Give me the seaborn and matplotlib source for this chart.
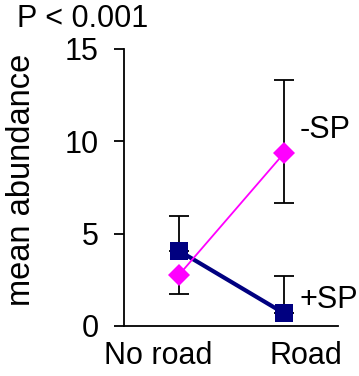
import matplotlib
matplotlib.use("Agg")
import matplotlib.pyplot as plt
import matplotlib.transforms as mtransforms
import pandas as pd
import seaborn as sns

# Site categories
sites = ["No road", "Road"]

# -SP series: mean abundance with lower / upper error
minus_sp_mean = [2.76, 9.35]
minus_sp_err_lo = [1.04, 2.70]
minus_sp_err_hi = [0.0, 3.95]

# +SP series: mean abundance with lower / upper error
plus_sp_mean = [4.07, 0.69]
plus_sp_err_lo = [0.0, 0.0]
plus_sp_err_hi = [1.90, 2.03]

y_ticks = [0, 5, 10, 15]

sns.set_style("ticks")
plt.rcParams["font.family"] = ["Liberation Sans", "DejaVu Sans"]
plt.rcParams.update({"text.color": "black", "axes.labelcolor": "black",
                     "xtick.color": "black", "ytick.color": "black"})

fig = plt.figure(figsize=(3.59, 3.76), dpi=100)
ax = fig.add_axes([0.345, 0.133, 0.5965, 0.737])

df_plus = pd.DataFrame({"site": sites, "mean": plus_sp_mean})
df_minus = pd.DataFrame({"site": sites, "mean": minus_sp_mean})

# error bars sit behind the markers
ax.errorbar([0, 1], plus_sp_mean, yerr=[plus_sp_err_lo, plus_sp_err_hi],
            fmt="none", ecolor="black", elinewidth=1.3, capsize=7,
            capthick=1.3, zorder=1)
ax.errorbar([0, 1], minus_sp_mean, yerr=[minus_sp_err_lo, minus_sp_err_hi],
            fmt="none", ecolor="black", elinewidth=1.3, capsize=7,
            capthick=1.3, zorder=1)

sns.lineplot(data=df_plus, x="site", y="mean", ax=ax, color="#000080",
             linewidth=3, marker="s", markersize=13, markeredgewidth=0,
             sort=False, zorder=3)
sns.lineplot(data=df_minus, x="site", y="mean", ax=ax, color="#FF00FF",
             linewidth=1.3, marker="D", markersize=11, markeredgewidth=0,
             sort=False, zorder=4)

ax.set_xlim(-0.524, 1.514)
ax.set_ylim(0, 15)
ax.set_yticks(y_ticks)
ax.set_yticklabels([str(t) for t in y_ticks])
ax.set_xticks([0, 1])
ax.set_xticklabels(sites)

ax.tick_params(axis="y", length=7, width=1.3, pad=11, labelsize=22,
               color="black", labelcolor="black")
ax.tick_params(axis="x", length=0, pad=11, labelsize=22, labelcolor="black")

# shift the category labels sideways
offsets = [-20.5, 22]
for lab, dx in zip(ax.get_xticklabels(), offsets):
    lab.set_transform(lab.get_transform() +
                      mtransforms.ScaledTranslation(dx / 100, 0, fig.dpi_scale_trans))

for side in ["top", "right"]:
    ax.spines[side].set_visible(False)
for side in ["left", "bottom"]:
    ax.spines[side].set_linewidth(1.3)
    ax.spines[side].set_color("black")

ax.set_xlabel("")
ax.set_ylabel("mean abundance", fontsize=23.5, color="black")
ax.yaxis.set_label_coords(-0.405, 0.527)

ax.text(1.152, 10.18, "-SP", fontsize=22, ha="left", va="baseline", color="black")
ax.text(1.143, 0.97, "+SP", fontsize=22, ha="left", va="baseline", color="black")

fig.text(17 / 359, 1 - 27 / 376, "P < 0.001", fontsize=22, ha="left",
         va="baseline", color="black")

fig.savefig("out.png", dpi=100)
